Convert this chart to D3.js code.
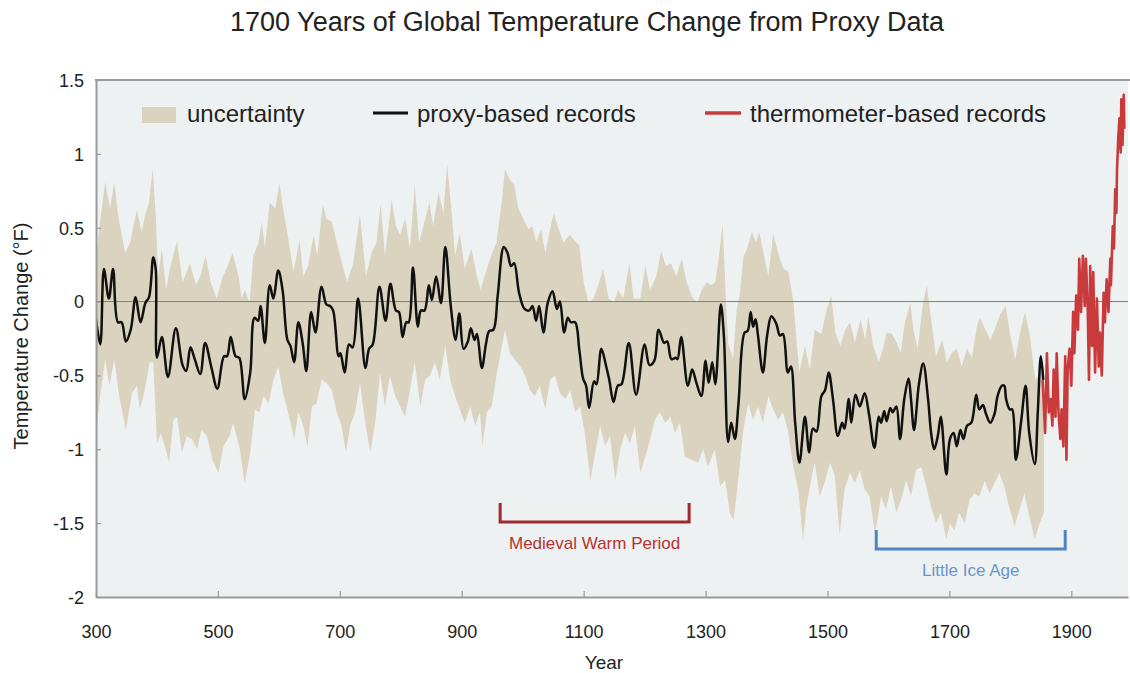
<!DOCTYPE html>
<html><head><meta charset="utf-8">
<script src="https://cdn.jsdelivr.net/npm/d3@7"></script>
<style>body{margin:0;background:#fff;}svg{display:block;font-family:"Liberation Sans",Arial,sans-serif;}</style>
</head><body>
<svg id="chart" width="1130" height="673"></svg>
<script>
// ---------- DATA ----------
const proxyYears = [300,307,313,321,328,336,342,349,357,365,373,381,387,394,398,400,408,418,431,442,448,455,462,471,479,489,499,510,515,521,529,535,544,553,560,566,570,577,585,591,599,606,614,619,625,632,639,645,653,660,670,678,684,689,698,701,708,715,721,730,742,748,754,765,775,783,792,797,803,809,813,820,828,833,839,846,851,858,866,873,882,890,896,903,910,915,921,925,933,940,945,952,959,969,975,981,986,994,1003,1011,1016,1022,1027,1034,1041,1049,1056,1061,1068,1074,1079,1086,1093,1099,1104,1109,1117,1121,1129,1137,1142,1149,1156,1162,1174,1186,1200,1208,1216,1223,1232,1237,1244,1251,1254,1260,1271,1278,1285,1293,1300,1305,1311,1316,1325,1330,1337,1342,1348,1354,1364,1369,1374,1378,1382,1386,1394,1401,1408,1416,1422,1427,1435,1440,1447,1454,1463,1470,1476,1482,1490,1496,1502,1509,1517,1524,1528,1535,1539,1546,1553,1561,1568,1577,1584,1588,1593,1597,1603,1607,1613,1619,1626,1633,1637,1642,1650,1657,1665,1670,1675,1681,1686,1695,1701,1707,1712,1718,1723,1729,1736,1744,1749,1755,1760,1767,1774,1779,1786,1790,1793,1799,1803,1809,1818,1825,1831,1840,1845,1850,1854];
const proxyValues = [-0.12,-0.29,0.22,0.02,0.22,-0.14,-0.14,-0.27,-0.19,0.03,-0.14,-0.01,0.03,0.30,0.22,-0.38,-0.24,-0.51,-0.18,-0.43,-0.47,-0.31,-0.39,-0.49,-0.28,-0.44,-0.59,-0.37,-0.37,-0.24,-0.37,-0.38,-0.66,-0.48,-0.11,-0.13,-0.03,-0.28,0.11,0.02,0.21,0.08,-0.26,-0.30,-0.41,-0.14,-0.28,-0.47,-0.07,-0.21,0.10,-0.02,-0.03,-0.06,-0.37,-0.35,-0.48,-0.29,-0.31,0.02,-0.45,-0.32,-0.29,0.10,-0.13,0.12,-0.06,-0.07,-0.24,-0.14,-0.14,0.23,-0.17,-0.06,-0.06,0.11,0.01,0.17,-0.01,0.37,-0.03,-0.26,-0.08,-0.32,-0.27,-0.18,-0.26,-0.22,-0.45,-0.28,-0.20,-0.19,0.04,0.37,0.33,0.24,0.26,0.06,-0.05,-0.06,-0.03,-0.13,-0.03,-0.21,-0.01,0.07,-0.05,0.00,-0.21,-0.11,-0.14,-0.14,-0.33,-0.52,-0.57,-0.72,-0.54,-0.56,-0.32,-0.44,-0.53,-0.68,-0.57,-0.56,-0.28,-0.63,-0.29,-0.43,-0.40,-0.19,-0.28,-0.27,-0.39,-0.38,-0.39,-0.24,-0.57,-0.46,-0.55,-0.64,-0.40,-0.55,-0.41,-0.56,-0.02,-0.23,-0.95,-0.82,-0.93,-0.69,-0.21,-0.20,-0.07,-0.17,-0.12,-0.23,-0.48,-0.23,-0.10,-0.15,-0.23,-0.22,-0.48,-0.44,-0.82,-1.09,-0.78,-1.02,-0.86,-0.88,-0.64,-0.60,-0.48,-0.66,-0.91,-0.82,-0.86,-0.66,-0.82,-0.63,-0.71,-0.62,-0.76,-0.99,-0.78,-0.82,-0.74,-0.81,-0.72,-0.75,-0.71,-0.93,-0.66,-0.52,-0.66,-0.87,-0.56,-0.42,-0.66,-0.89,-1.00,-0.91,-0.78,-1.17,-0.93,-0.89,-0.98,-0.87,-0.93,-0.84,-0.82,-0.63,-0.73,-0.70,-0.76,-0.82,-0.76,-0.64,-0.57,-0.57,-0.66,-0.73,-0.73,-1.07,-0.80,-0.57,-0.89,-1.10,-0.75,-0.37,-0.53];

const upperYears = [300,315,323,330,337,348,356,367,375,380,387,393,398,402,408,415,421,433,442,454,464,471,480,488,498,508,514,524,534,539,544,552,558,566,572,577,585,594,601,607,613,624,634,640,648,657,663,672,678,687,695,706,712,722,733,743,752,760,767,774,780,785,792,799,807,815,823,830,837,847,853,862,870,876,884,889,897,905,916,925,931,941,949,957,966,971,978,986,993,1001,1009,1016,1022,1030,1037,1045,1051,1059,1067,1077,1086,1093,1100,1108,1116,1124,1132,1141,1149,1157,1165,1175,1182,1193,1201,1209,1219,1227,1235,1243,1252,1261,1269,1277,1286,1294,1302,1309,1316,1322,1328,1333,1337,1345,1351,1356,1362,1368,1376,1383,1388,1396,1403,1411,1420,1428,1436,1444,1450,1454,1463,1471,1479,1490,1499,1506,1513,1521,1529,1537,1545,1554,1562,1567,1575,1584,1591,1597,1606,1614,1620,1627,1636,1641,1648,1656,1663,1670,1678,1688,1696,1704,1712,1720,1729,1737,1745,1750,1759,1767,1775,1783,1792,1800,1808,1816,1824,1832,1841,1849,1855];
const upperValues = [0.31,0.81,0.63,0.81,0.56,0.33,0.40,0.62,0.47,0.58,0.67,0.90,0.58,0.17,0.36,0.08,0.22,0.41,0.13,0.26,0.11,0.17,0.31,0.13,0.02,0.17,0.22,0.33,0.17,0.02,0.08,-0.01,0.31,0.39,0.54,0.36,0.67,0.63,0.80,0.63,0.49,0.20,0.42,0.17,0.24,0.45,0.31,0.66,0.56,0.54,0.40,0.22,0.13,0.26,0.59,0.17,0.33,0.40,0.66,0.31,0.51,0.69,0.51,0.45,0.56,0.36,0.79,0.40,0.51,0.67,0.51,0.74,0.60,0.93,0.58,0.31,0.46,0.22,0.36,0.17,0.08,0.22,0.32,0.40,0.69,0.90,0.83,0.79,0.63,0.56,0.49,0.51,0.40,0.49,0.33,0.49,0.60,0.49,0.40,0.45,0.41,0.38,0.13,-0.01,0.02,0.11,0.22,0.02,-0.01,0.08,0.02,0.26,0.02,0.02,0.24,0.08,0.17,0.34,0.24,0.26,0.17,0.29,0.13,0.04,-0.01,0.08,0.13,0.11,0.13,0.31,0.52,0.05,-0.28,-0.39,-0.05,0.04,0.30,0.36,0.47,0.40,0.47,0.31,0.17,0.46,0.31,0.22,0.20,0.00,-0.30,-0.48,-0.30,-0.46,-0.19,-0.22,-0.05,0.04,-0.21,-0.30,-0.19,-0.14,-0.28,-0.12,-0.26,-0.10,-0.30,-0.41,-0.32,-0.21,-0.22,-0.28,-0.35,-0.14,-0.01,-0.19,-0.32,-0.03,0.11,-0.12,-0.37,-0.26,-0.41,-0.35,-0.32,-0.44,-0.32,-0.38,-0.17,-0.11,-0.19,-0.26,-0.18,-0.09,-0.03,-0.23,-0.39,-0.21,-0.07,-0.23,-0.53,-0.48,-0.45];

const lowerYears = [300,307,315,322,330,338,349,359,367,372,380,388,394,400,406,413,420,427,433,441,449,457,466,473,482,491,501,509,519,525,536,544,553,561,568,575,583,591,599,607,618,625,632,640,647,654,662,670,678,687,695,703,710,717,725,733,741,750,758,766,774,782,791,799,807,815,823,832,840,848,856,864,873,881,889,897,905,914,922,930,934,941,949,957,966,971,979,987,996,1004,1012,1020,1028,1037,1045,1053,1061,1070,1078,1086,1094,1102,1111,1119,1127,1135,1143,1152,1160,1168,1176,1184,1193,1201,1209,1217,1225,1234,1242,1250,1258,1266,1277,1288,1296,1304,1315,1324,1332,1340,1346,1353,1362,1370,1378,1386,1394,1403,1411,1419,1427,1435,1444,1452,1460,1465,1473,1479,1487,1495,1504,1512,1520,1528,1537,1545,1553,1561,1569,1578,1588,1596,1604,1613,1621,1629,1637,1645,1654,1662,1670,1678,1686,1695,1701,1708,1716,1725,1733,1741,1749,1758,1766,1774,1782,1790,1798,1807,1815,1823,1831,1840,1848,1855];
const lowerValues = [-0.89,-0.64,-0.39,-0.57,-0.39,-0.64,-0.87,-0.62,-0.57,-0.73,-0.60,-0.41,-0.41,-0.96,-0.89,-0.98,-1.09,-0.80,-0.78,-1.02,-0.91,-0.93,-1.00,-0.87,-0.91,-1.07,-1.16,-0.98,-0.91,-0.82,-1.00,-1.23,-1.02,-0.73,-0.75,-0.64,-0.69,-0.53,-0.44,-0.62,-0.80,-0.93,-0.75,-0.84,-0.98,-0.71,-0.69,-0.53,-0.55,-0.60,-0.75,-0.84,-1.02,-0.84,-0.75,-0.55,-0.80,-1.02,-0.82,-0.48,-0.71,-0.50,-0.64,-0.71,-0.78,-0.60,-0.41,-0.71,-0.53,-0.50,-0.41,-0.53,-0.30,-0.53,-0.64,-0.73,-0.82,-0.71,-0.84,-0.75,-0.98,-0.75,-0.71,-0.50,-0.30,-0.19,-0.35,-0.39,-0.44,-0.50,-0.60,-0.64,-0.57,-0.73,-0.53,-0.50,-0.62,-0.66,-0.60,-0.75,-0.71,-0.89,-1.21,-1.02,-0.84,-0.98,-0.91,-1.21,-1.00,-0.89,-0.96,-0.84,-1.16,-1.05,-0.93,-0.80,-0.75,-0.82,-0.78,-0.89,-0.82,-1.05,-1.07,-1.09,-1.00,-1.12,-1.00,-1.25,-1.21,-1.43,-1.48,-1.23,-0.87,-0.69,-0.80,-0.71,-0.82,-0.64,-0.73,-0.80,-0.75,-0.87,-1.12,-1.27,-1.62,-1.40,-1.21,-1.09,-1.32,-1.23,-1.09,-1.18,-1.58,-1.27,-1.16,-1.23,-1.14,-1.27,-1.32,-1.57,-1.32,-1.41,-1.25,-1.43,-1.34,-1.21,-1.32,-1.14,-1.12,-1.25,-1.39,-1.50,-1.43,-1.61,-1.50,-1.55,-1.43,-1.50,-1.34,-1.30,-1.32,-1.21,-1.30,-1.23,-1.16,-1.25,-1.39,-1.52,-1.41,-1.30,-1.45,-1.61,-1.50,-1.43];

const thermoYears = [1853,1857,1860,1863,1866,1869,1871,1874,1876,1879,1882,1884,1887,1890,1892,1894,1897,1900,1903,1905,1908,1911,1913,1916,1919,1922,1924,1927,1929,1931,1934,1936,1939,1942,1945,1947,1950,1953,1955,1958,1961,1964,1965,1968,1970,1972,1974,1975,1977,1979,1981,1982,1984,1986,1987];
const thermoValues = [-0.53,-0.89,-0.35,-0.75,-0.66,-0.84,-0.46,-0.78,-0.35,-0.75,-0.93,-0.73,-0.98,-0.37,-1.07,-0.46,-0.32,-0.57,-0.07,-0.35,0.04,-0.19,0.29,-0.07,0.31,-0.03,0.29,-0.07,-0.53,0.24,-0.30,0.20,-0.48,0.02,-0.44,-0.21,-0.50,0.06,-0.14,0.15,-0.07,0.29,0.11,0.51,0.36,0.76,0.60,0.90,1.10,1.24,1.01,1.37,1.06,1.40,1.17];

const xTicks = [300,500,700,900,1100,1300,1500,1700,1900];
const yTicks = [1.5,1,0.5,0,-0.5,-1,-1.5,-2];
const yTickLabels = ["1.5","1","0.5","0","-0.5","-1","-1.5","-2"];

const periodNames = ["Medieval Warm Period","Little Ice Age"];
const periodStarts = [963,1580];
const periodEnds = [1273,1890];

const titleText = "1700 Years of Global Temperature Change from Proxy Data";
const legendLabels = ["uncertainty","proxy-based records","thermometer-based records"];

// ---------- DRAW ----------
const svg = d3.select("#chart");
const L = 96, R = 1128, T = 80, B = 597;
const x = d3.scaleLinear().domain([300, 1993]).range([L, R]);
const y = d3.scaleLinear().domain([-2, 1.5]).range([B, T]);

const C = {bg:"#eef1f1", band:"#d9d3bf", proxy:"#111", thermo:"#c83a3c", axis:"#9a9a9a",
           mwp:"#a0292c", mwpText:"#b5332f", lia:"#4f83c6", liaText:"#6a95cf"};

svg.append("defs").append("clipPath").attr("id","clip")
  .append("rect").attr("x",L).attr("y",T).attr("width",R-L).attr("height",B-T);

svg.append("rect").attr("x",L).attr("y",T).attr("width",R-L).attr("height",B-T).attr("fill",C.bg);

const plot = svg.append("g").attr("clip-path","url(#clip)");

// uncertainty band
const bandPts = upperYears.map((yr,i)=>[yr, upperValues[i]])
  .concat(lowerYears.map((yr,i)=>[yr, lowerValues[i]]).reverse());
plot.append("path")
  .attr("d", d3.line().x(d=>x(d[0])).y(d=>y(d[1]))(bandPts) + "Z")
  .attr("fill", C.band).attr("stroke","none");

// zero line
plot.append("line").attr("x1",L).attr("x2",R).attr("y1",y(0)).attr("y2",y(0))
  .attr("stroke","#7d7d7d").attr("stroke-width",1);

// thermometer records
plot.append("path")
  .attr("d", d3.line().x((d,i)=>x(thermoYears[i])).y(d=>y(d))(thermoValues))
  .attr("fill","none").attr("stroke",C.thermo).attr("stroke-width",2.6).attr("stroke-linejoin","round");

// proxy records
plot.append("path")
  .attr("d", d3.line().curve(d3.curveCatmullRom.alpha(0.5)).x((d,i)=>x(proxyYears[i])).y(d=>y(d))(proxyValues))
  .attr("fill","none").attr("stroke",C.proxy).attr("stroke-width",2.5).attr("stroke-linejoin","round");

// axes
const xAxis = svg.append("g").attr("transform",`translate(0,${B})`)
  .call(d3.axisBottom(x).tickValues(xTicks).tickFormat(d3.format("d")).tickSizeInner(-6).tickSizeOuter(0).tickPadding(28));
const yAxis = svg.append("g").attr("transform",`translate(${L},0)`)
  .call(d3.axisLeft(y).tickValues(yTicks).tickFormat((d,i)=>yTickLabels[i]).tickSizeInner(-5).tickSizeOuter(0).tickPadding(12));
[xAxis,yAxis].forEach(g=>{
  g.select(".domain").attr("stroke",C.axis).attr("stroke-width",2);
  g.selectAll(".tick line").attr("stroke",C.axis).attr("stroke-width",1.2);
  g.selectAll(".tick text").attr("fill","#222").style("font-size","18px").style("font-family","'Liberation Sans',Arial,sans-serif");
});
yAxis.selectAll(".tick text").attr("dy","0.35em");
// top border
svg.append("line").attr("x1",L-1).attr("x2",R+2).attr("y1",T).attr("y2",T).attr("stroke",C.axis).attr("stroke-width",2);

// period brackets
const bracketTop = [503, 530];
const bracketBottom = [522, 549];
const pColors = [C.mwp, C.lia], tColors = [C.mwpText, C.liaText];
periodNames.forEach((name,i)=>{
  const x0 = x(periodStarts[i]), x1 = x(periodEnds[i]);
  svg.append("path")
    .attr("d", `M${x0},${bracketTop[i]}V${bracketBottom[i]}H${x1}V${bracketTop[i]}`)
    .attr("fill","none").attr("stroke",pColors[i]).attr("stroke-width",3);
  svg.append("text").attr("x",(x0+x1)/2).attr("y",bracketBottom[i]+27)
    .attr("text-anchor","middle").attr("fill",tColors[i]).style("font-size","17px").text(name);
});

// legend
const lg = svg.append("g");
lg.append("rect").attr("x",142).attr("y",107).attr("width",34).attr("height",16).attr("fill",C.band);
lg.append("text").attr("x",187).attr("y",122).style("font-size","24px").attr("fill","#222").text(legendLabels[0]);
lg.append("line").attr("x1",373).attr("x2",408).attr("y1",113).attr("y2",113).attr("stroke",C.proxy).attr("stroke-width",3);
lg.append("text").attr("x",417).attr("y",122).style("font-size","24px").attr("fill","#222").text(legendLabels[1]);
lg.append("line").attr("x1",705).attr("x2",741).attr("y1",113).attr("y2",113).attr("stroke",C.thermo).attr("stroke-width",3.5);
lg.append("text").attr("x",750).attr("y",122).style("font-size","24px").attr("fill","#222").text(legendLabels[2]);

// titles
svg.append("text").attr("x",587).attr("y",31).attr("text-anchor","middle")
  .style("font-size","27px").attr("fill","#222").text(titleText);
svg.append("text").attr("x",604).attr("y",669).attr("text-anchor","middle")
  .style("font-size","19px").attr("fill","#222").text("Year");
svg.append("text").attr("transform","translate(28,336) rotate(-90)").attr("text-anchor","middle")
  .style("font-size","20px").attr("fill","#222").text("Temperature Change (°F)");
</script>
</body></html>
